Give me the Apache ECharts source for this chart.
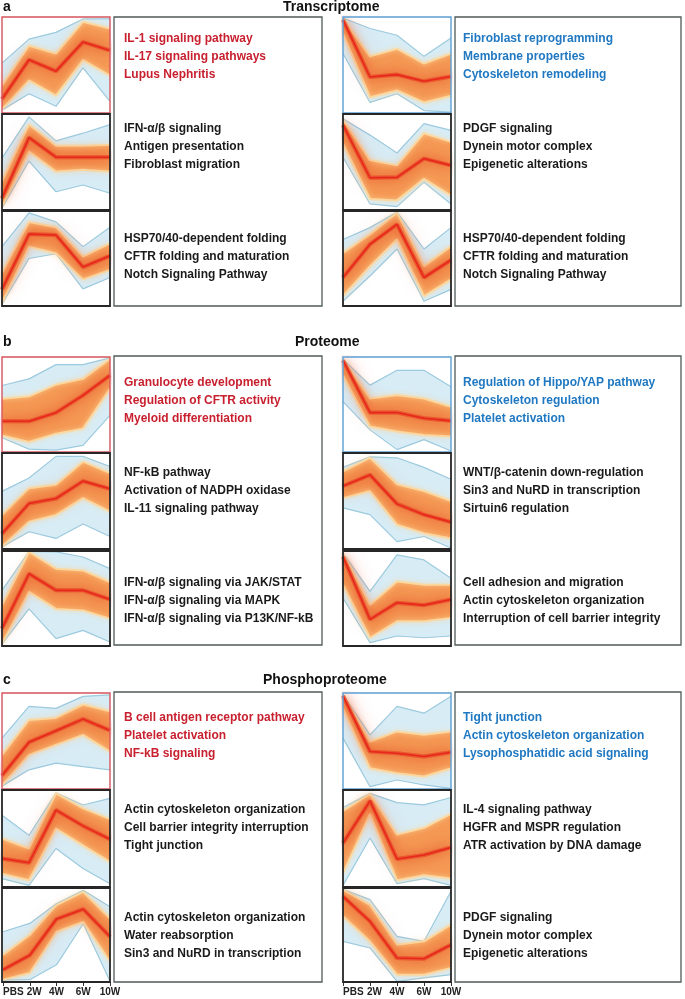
<!DOCTYPE html>
<html><head><meta charset="utf-8">
<script src="https://cdn.jsdelivr.net/npm/echarts@6/dist/echarts.min.js"></script>
<style>html,body{margin:0;padding:0;background:#fff}#c{width:685px;height:999px}</style>
</head><body><div id="c"></div>
<script>
// ---------- DATA ----------
const categories = ['PBS', '2W', '4W', '6W', '10W'];

// Profiles per panel (0 = panel bottom, 100 = panel top):
// blueLo = lower edge of all profiles, warmLo = lower edge of high-membership (warm) lines,
// center = cluster centroid (red), warmHi = upper edge of warm lines, blueHi = upper edge of all profiles.

// Transcriptome, left column
const trL1_blueLo = [3, 20, 7, 47, 12];
const trL1_warmLo = [4, 34, 18, 55, 39];
const trL1_center = [14.6, 55.4, 43.6, 73.9, 65.2];
const trL1_warmHi = [28.6, 70, 62, 95, 88];
const trL1_blueHi = [52, 77, 84, 98, 98];

const trL2_blueLo = [2, 51, 19, 26, 17.5];
const trL2_warmLo = [3.5, 61, 40, 42, 40];
const trL2_center = [12.3, 75.4, 55, 55, 55];
const trL2_warmHi = [30, 89, 67, 67, 68];
const trL2_blueHi = [54, 97, 72, 80, 89];

const trL3_blueLo = [2, 50, 55, 18, 30];
const trL3_warmLo = [3.5, 62.5, 55.5, 28, 38];
const trL3_center = [17.4, 75.7, 74.7, 41, 52.8];
const trL3_warmHi = [35, 88.5, 83, 52, 66];
const trL3_blueHi = [62.5, 98, 88.5, 62.5, 83];

// Transcriptome, right column
const trR1_blueLo = [62, 11, 20, 2.5, 1];
const trR1_warmLo = [83, 16.5, 23.5, 11, 18];
const trR1_center = [97, 37.5, 40, 33, 38];
const trR1_warmHi = [98, 59, 67, 51.5, 62];
const trR1_blueHi = [99, 88, 81, 59, 78];

const trR2_blueLo = [55, 6.3, 3.5, 29, 6.3];
const trR2_warmLo = [69, 11.5, 10, 32.5, 15];
const trR2_center = [88.5, 33.6, 34, 53.5, 46.5];
const trR2_warmHi = [94, 52, 46.5, 80, 71];
const trR2_blueHi = [95, 78, 59.4, 90, 83];

const trR3_blueLo = [5, 31.6, 60, 5, 17.5];
const trR3_warmLo = [10.5, 42, 70, 10.5, 28];
const trR3_center = [30, 65, 86, 30, 48.4];
const trR3_warmHi = [56, 75.4, 98, 42, 63];
const trR3_blueHi = [70, 82.5, 99, 60, 82.5];

// Proteome, left column
const prL1_blueLo = [15, 3, 2, 7, 38.6];
const prL1_warmLo = [17.5, 10.5, 19.3, 24.6, 66.7];
const prL1_center = [32.3, 32.3, 41.4, 59.6, 80.7];
const prL1_warmHi = [56, 58.6, 71, 77, 98];
const prL1_blueHi = [70, 77, 92, 92, 99];

const prL2_blueLo = [2, 18, 11, 26, 13];
const prL2_warmLo = [2.5, 28.5, 35.5, 53, 39];
const prL2_center = [16, 47.4, 52.6, 70.7, 62.7];
const prL2_warmHi = [35.5, 63.4, 67, 91, 79];
const prL2_blueHi = [60, 74, 96.5, 96.5, 86];

const prL3_blueLo = [2, 39, 7.7, 16.5, 4.2];
const prL3_warmLo = [2.5, 57, 39, 37.5, 28.8];
const prL3_center = [18.6, 76, 58.6, 58.6, 49];
const prL3_warmHi = [42.8, 99, 81.4, 79.6, 67.4];
const prL3_blueHi = [58.6, 99.5, 99, 93.7, 81.4];

// Proteome, right column
const prR1_blueLo = [53, 23.3, 2.5, 13, 1];
const prR1_warmLo = [80.8, 26.8, 21.6, 18, 16.4];
const prR1_center = [96.5, 41.5, 41.5, 35.5, 32.8];
const prR1_warmHi = [97, 56.4, 60, 56.4, 47.7];
const prR1_blueHi = [97.5, 70.4, 86, 86, 68.6];

const prR2_blueLo = [42.8, 35.8, 7.7, 13, 1];
const prR2_warmLo = [53, 60.4, 25.3, 16.5, 11];
const prR2_center = [65.6, 77.2, 47, 35.8, 28];
const prR2_warmHi = [81, 95, 67.4, 60.4, 50];
const prR2_blueHi = [85, 96, 95, 85, 72.6];

const prR3_blueLo = [50.5, 3.5, 10.5, 8.7, 10.5];
const prR3_warmLo = [64.5, 8.7, 26, 26, 29.6];
const prR3_center = [94, 28, 45.6, 43, 49];
const prR3_warmHi = [97.5, 43.5, 68, 64.5, 64.5];
const prR3_blueHi = [98, 57.5, 96, 90.6, 71.4];

// Phosphoproteome, left column
const phL1_blueLo = [3, 20, 27, 23.3, 20];
const phL1_warmLo = [4, 35.5, 46, 56.4, 39];
const phL1_center = [14, 48.8, 60.6, 72.8, 61];
const phL1_warmHi = [35.5, 72, 74, 88, 81];
const phL1_blueHi = [53, 86, 84, 96.5, 98];

const phL2_blueLo = [8.6, 1.7, 39.7, 19, 3.4];
const phL2_warmLo = [13.8, 6.9, 60.3, 43, 26];
const phL2_center = [29.3, 25, 79.3, 63, 49.3];
const phL2_warmHi = [50, 39.7, 96.5, 81, 70];
const phL2_blueHi = [74, 53.4, 97, 84.5, 91.4];

const phL3_blueLo = [2, 2.5, 18.3, 62, 0.7];
const phL3_warmLo = [2.5, 9.5, 53.5, 64, 21.8];
const phL3_center = [13, 28.5, 67, 77.5, 48.2];
const phL3_warmHi = [28.9, 50, 81.7, 95.8, 67.6];
const phL3_blueHi = [53.5, 62.3, 83.5, 97.5, 80];

// Phosphoproteome, right column
const phR1_blueLo = [53, 2.4, 9.4, 4.2, 0.7];
const phR1_warmLo = [84, 21.6, 16.4, 13, 21.6];
const phR1_center = [97, 39, 37.3, 33.8, 38.3];
const phR1_warmHi = [98, 49.5, 60, 56.4, 60];
const phR1_blueHi = [98.5, 56.4, 86, 79, 96.5];

const phR2_blueLo = [1.7, 50.5, 3.5, 8.7, 1.7];
const phR2_warmLo = [14, 75.3, 7, 12.2, 8.7];
const phR2_center = [45.3, 88.8, 28.9, 33, 40.8];
const phR2_warmHi = [78.4, 95.8, 54, 61, 75.3];
const phR2_blueHi = [81.9, 96.5, 87, 84.7, 92.3];

const phR3_blueLo = [43.3, 36.2, 0.7, 4.3, 7.8];
const phR3_warmLo = [70, 43.3, 7.8, 7.8, 15];
const phR3_center = [91, 64.5, 25.5, 24.8, 39.7];
const phR3_warmHi = [98, 82, 39.7, 43.3, 61];
const phR3_blueHi = [98.5, 87.6, 48.6, 43.3, 96.5];

// Text
const sectionTitles = ['Transcriptome', 'Proteome', 'Phosphoproteome'];
const sectionLetters = ['a', 'b', 'c'];
const trLeftText = [
  ['IL-1 signaling pathway', 'IL-17 signaling pathways', 'Lupus Nephritis'],
  ['IFN-α/β signaling', 'Antigen presentation', 'Fibroblast migration'],
  ['HSP70/40-dependent folding', 'CFTR folding and maturation', 'Notch Signaling Pathway']];
const trRightText = [
  ['Fibroblast reprogramming', 'Membrane properties', 'Cytoskeleton remodeling'],
  ['PDGF signaling', 'Dynein motor complex', 'Epigenetic alterations'],
  ['HSP70/40-dependent folding', 'CFTR folding and maturation', 'Notch Signaling Pathway']];
const prLeftText = [
  ['Granulocyte development', 'Regulation of CFTR activity', 'Myeloid differentiation'],
  ['NF-kB pathway', 'Activation of NADPH oxidase', 'IL-11 signaling pathway'],
  ['IFN-α/β signaling via JAK/STAT', 'IFN-α/β signaling via MAPK', 'IFN-α/β signaling via P13K/NF-kB']];
const prRightText = [
  ['Regulation of Hippo/YAP pathway', 'Cytoskeleton regulation', 'Platelet activation'],
  ['WNT/β-catenin down-regulation', 'Sin3 and NuRD in transcription', 'Sirtuin6 regulation'],
  ['Cell adhesion and migration', 'Actin cytoskeleton organization', 'Interruption of cell barrier integrity']];
const phLeftText = [
  ['B cell antigen receptor pathway', 'Platelet activation', 'NF-kB signaling'],
  ['Actin cytoskeleton organization', 'Cell barrier integrity interruption', 'Tight junction'],
  ['Actin cytoskeleton organization', 'Water reabsorption', 'Sin3 and NuRD in transcription']];
const phRightText = [
  ['Tight junction', 'Actin cytoskeleton organization', 'Lysophosphatidic acid signaling'],
  ['IL-4 signaling pathway', 'HGFR and MSPR regulation', 'ATR activation by DNA damage'],
  ['PDGF signaling', 'Dynein motor complex', 'Epigenetic alterations']];

// ---------- LAYOUT / STYLE ----------
const FONT = '"Liberation Sans", Arial, Helvetica, sans-serif';
const RED_TXT = '#c8202f', BLUE_TXT = '#1f78c1', DARK_TXT = '#1a1a1a';
const BORDER = { red: '#d6545f', blue: '#5c9fd4', dark: '#262626' };
const BLUE_EDGE = '#9ccade', BLUE_FILL = '#d8ecf5', WARM_FILL = '#f59a55', WARM_EDGE = '#fcd9a0';

const colX = [2, 343];
const panelW = 108;
const sectionRows = [
  { ys: [17, 114, 211], hs: [96, 96, 95], titleTop: 0, titleX: 283, box: [17, 289], textY: [40, 130, 240] },
  { ys: [357, 453, 551], hs: [95, 96, 95], titleTop: 335, titleX: 295, box: [356, 289], textY: [384, 474, 584] },
  { ys: [693, 790, 888], hs: [96, 97, 94], titleTop: 673, titleX: 263, box: [692, 290], textY: [719, 811, 919] }
];
const boxX = [[114, 208], [455, 226]];
const textX = [124, 463];

const panelProfiles = [
  [[trL1_blueLo, trL1_warmLo, trL1_center, trL1_warmHi, trL1_blueHi],
   [trL2_blueLo, trL2_warmLo, trL2_center, trL2_warmHi, trL2_blueHi],
   [trL3_blueLo, trL3_warmLo, trL3_center, trL3_warmHi, trL3_blueHi]],
  [[trR1_blueLo, trR1_warmLo, trR1_center, trR1_warmHi, trR1_blueHi],
   [trR2_blueLo, trR2_warmLo, trR2_center, trR2_warmHi, trR2_blueHi],
   [trR3_blueLo, trR3_warmLo, trR3_center, trR3_warmHi, trR3_blueHi]],
  [[prL1_blueLo, prL1_warmLo, prL1_center, prL1_warmHi, prL1_blueHi],
   [prL2_blueLo, prL2_warmLo, prL2_center, prL2_warmHi, prL2_blueHi],
   [prL3_blueLo, prL3_warmLo, prL3_center, prL3_warmHi, prL3_blueHi]],
  [[prR1_blueLo, prR1_warmLo, prR1_center, prR1_warmHi, prR1_blueHi],
   [prR2_blueLo, prR2_warmLo, prR2_center, prR2_warmHi, prR2_blueHi],
   [prR3_blueLo, prR3_warmLo, prR3_center, prR3_warmHi, prR3_blueHi]],
  [[phL1_blueLo, phL1_warmLo, phL1_center, phL1_warmHi, phL1_blueHi],
   [phL2_blueLo, phL2_warmLo, phL2_center, phL2_warmHi, phL2_blueHi],
   [phL3_blueLo, phL3_warmLo, phL3_center, phL3_warmHi, phL3_blueHi]],
  [[phR1_blueLo, phR1_warmLo, phR1_center, phR1_warmHi, phR1_blueHi],
   [phR2_blueLo, phR2_warmLo, phR2_center, phR2_warmHi, phR2_blueHi],
   [phR3_blueLo, phR3_warmLo, phR3_center, phR3_warmHi, phR3_blueHi]]
];
const texts = [trLeftText, trRightText, prLeftText, prRightText, phLeftText, phRightText];

// ---------- BUILD ----------
const grids = [], xAxes = [], yAxes = [], series = [], graphics = [];
const diff = (a, b) => a.map((v, k) => Math.max(0, v - b[k]));
let gi = 0;

for (let s = 0; s < 3; s++) {
  const sec = sectionRows[s];
  graphics.push({ type: 'text', left: 3, top: sec.titleTop, z: 50,
    style: { text: sectionLetters[s], font: 'bold 14px ' + FONT, fill: '#111' } });
  graphics.push({ type: 'text', left: sec.titleX, top: sec.titleTop, z: 50,
    style: { text: sectionTitles[s], font: 'bold 14px ' + FONT, fill: '#111' } });
  for (let c = 0; c < 2; c++) {
    const profs = panelProfiles[s * 2 + c];
    const txt = texts[s * 2 + c];
    graphics.push({ type: 'rect', z: 40, shape: { x: boxX[c][0], y: sec.box[0], width: boxX[c][1], height: sec.box[1] },
      style: { fill: 'none', stroke: '#4f5b5a', lineWidth: 1.3 } });
    for (let r = 0; r < 3; r++) {
      const [bLo, wLo, cen, wHi, bHi] = profs[r];
      const x = colX[c], y = sec.ys[r], h = sec.hs[r];
      const bottomRow = (s === 2 && r === 2);
      grids.push({ left: x, top: y, width: panelW, height: h });
      xAxes.push({ type: 'category', gridIndex: gi, data: categories, boundaryGap: false,
        show: bottomRow,
        axisLine: { show: false },
        axisTick: { show: true, length: 4, lineStyle: { color: '#333', width: 1 } },
        axisLabel: { show: true, fontSize: 10, fontWeight: 'bold', color: '#222', margin: 5,
          fontFamily: FONT, alignMinLabel: 'left', interval: 0,
          formatter: (v, idx) => idx === 1 ? '{p|' + v + '}' : v,
          rich: { p: { fontSize: 10, fontWeight: 'bold', color: '#222', fontFamily: FONT, padding: [0, 0, 0, 9] } } } });
      yAxes.push({ type: 'value', gridIndex: gi, min: 0, max: 100, show: false });
      const base = { type: 'line', xAxisIndex: gi, yAxisIndex: gi, symbol: 'none', silent: true, animation: false, clip: true };
      const st = 'st' + gi;
      series.push(
        Object.assign({}, base, { data: bLo, stack: st, lineStyle: { opacity: 0, width: 0 } }),
        Object.assign({}, base, { data: diff(wLo, bLo), stack: st, areaStyle: { color: BLUE_FILL, opacity: 1 }, lineStyle: { opacity: 0, width: 0 } }),
        Object.assign({}, base, { data: diff(cen, wLo), stack: st, areaStyle: { color: WARM_FILL, opacity: 1 }, lineStyle: { opacity: 0, width: 0 } }),
        Object.assign({}, base, { data: diff(wHi, cen), stack: st, areaStyle: { color: WARM_FILL, opacity: 1 }, lineStyle: { opacity: 0, width: 0 } }),
        Object.assign({}, base, { data: diff(bHi, wHi), stack: st, areaStyle: { color: BLUE_FILL, opacity: 1 }, lineStyle: { opacity: 0, width: 0 } }),
        Object.assign({}, base, { data: bLo, lineStyle: { color: BLUE_EDGE, width: 1.2 } }),
        Object.assign({}, base, { data: bHi, lineStyle: { color: BLUE_EDGE, width: 1.2 } }),
        Object.assign({}, base, { data: wLo, lineStyle: { color: WARM_EDGE, width: 2, shadowBlur: 5, shadowColor: WARM_EDGE } }),
        Object.assign({}, base, { data: wHi, lineStyle: { color: WARM_EDGE, width: 2, shadowBlur: 5, shadowColor: WARM_EDGE } }),
        Object.assign({}, base, { data: cen, lineStyle: { color: 'rgba(236,90,45,0.5)', width: 4, shadowBlur: 18, shadowColor: 'rgba(232,70,30,1)' } }),
        Object.assign({}, base, { data: cen, lineStyle: { color: 'rgba(232,75,40,0.6)', width: 4, shadowBlur: 10, shadowColor: 'rgba(228,60,30,1)' } }),
        Object.assign({}, base, { data: cen, lineStyle: { color: '#e8261c', width: 1.6 } })
      );
      const bc = r === 0 ? (c === 0 ? BORDER.red : BORDER.blue) : BORDER.dark;
      graphics.push({ type: 'rect', z: 45, shape: { x: x, y: y, width: panelW, height: h },
        style: { fill: 'none', stroke: bc, lineWidth: r === 0 ? 1.4 : 1.8 } });
      const col = r === 0 ? (c === 0 ? RED_TXT : BLUE_TXT) : DARK_TXT;
      txt[r].forEach((t, k) => {
        graphics.push({ type: 'text', left: textX[c], top: sec.textY[r] + k * 18 - 7, z: 50,
          style: { text: t, font: 'bold 12px ' + FONT, fill: col } });
      });
      gi++;
    }
  }
}

const chart = echarts.init(document.getElementById('c'), null, { renderer: 'canvas' });
chart.setOption({
  animation: false,
  backgroundColor: '#fff',
  grid: grids, xAxis: xAxes, yAxis: yAxes, series: series, graphic: graphics
});
</script></body></html>
